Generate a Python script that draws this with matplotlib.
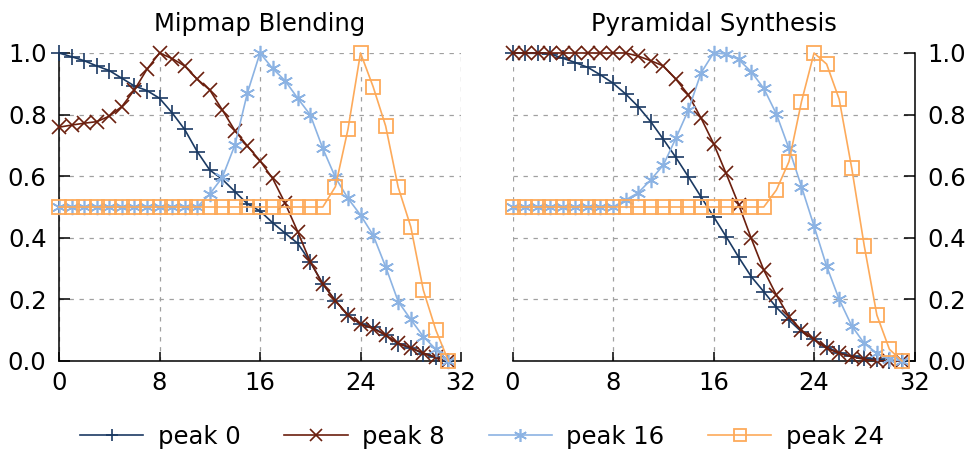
import matplotlib
matplotlib.use('Agg')
import matplotlib.pyplot as plt
from matplotlib.lines import Line2D

plt.rcParams['font.family'] = ['DejaVu Sans']

# sample index 0..31
x = list(range(32))

titles = ['Mipmap Blending', 'Pyramidal Synthesis']
labels = ['peak 0', 'peak 8', 'peak 16', 'peak 24']

# Mipmap Blending
mip_peak0 = [1.0, 0.988, 0.975, 0.958, 0.943, 0.918, 0.893, 0.878, 0.853, 0.806, 0.752, 0.68,
             0.62, 0.59, 0.55, 0.51, 0.487, 0.449, 0.415, 0.382, 0.322, 0.25, 0.196, 0.149,
             0.12, 0.109, 0.084, 0.055, 0.043, 0.023, 0.012, 0.0]
mip_peak8 = [0.759, 0.766, 0.772, 0.777, 0.795, 0.826, 0.88, 0.947, 1.0, 0.982, 0.958, 0.915,
             0.88, 0.815, 0.748, 0.698, 0.65, 0.593, 0.512, 0.42, 0.322, 0.25, 0.196, 0.149,
             0.12, 0.105, 0.084, 0.058, 0.043, 0.026, 0.012, 0.0]
mip_peak16 = [0.5, 0.5, 0.5, 0.5, 0.5, 0.5, 0.5, 0.5, 0.5, 0.5, 0.5, 0.5,
              0.542, 0.596, 0.701, 0.871, 1.0, 0.95, 0.91, 0.853, 0.799, 0.69, 0.596, 0.528,
              0.474, 0.409, 0.306, 0.193, 0.135, 0.079, 0.038, 0.0]
mip_peak24 = [0.5, 0.5, 0.5, 0.5, 0.5, 0.5, 0.5, 0.5, 0.5, 0.5, 0.5, 0.5,
              0.5, 0.5, 0.5, 0.5, 0.5, 0.5, 0.5, 0.5, 0.5, 0.5, 0.566, 0.752,
              1.0, 0.891, 0.763, 0.564, 0.436, 0.23, 0.10, 0.0]

# Pyramidal Synthesis
pyr_peak0 = [1.0, 0.999, 0.999, 0.997, 0.983, 0.969, 0.953, 0.929, 0.902, 0.867, 0.826, 0.777,
             0.72, 0.661, 0.598, 0.533, 0.469, 0.404, 0.337, 0.274, 0.225, 0.174, 0.133, 0.095,
             0.07, 0.046, 0.027, 0.016, 0.009, 0.005, 0.001, 0.0]
pyr_peak8 = [1.0, 1.0, 1.0, 1.0, 1.0, 1.0, 1.0, 1.0, 1.0, 1.0, 0.99, 0.975,
             0.958, 0.915, 0.864, 0.789, 0.706, 0.609, 0.508, 0.398, 0.295, 0.214, 0.144, 0.10,
             0.07, 0.041, 0.025, 0.014, 0.005, 0.001, 0.0, 0.0]
pyr_peak16 = [0.5, 0.5, 0.5, 0.5, 0.5, 0.5, 0.5, 0.5, 0.5, 0.523, 0.546, 0.588,
              0.636, 0.723, 0.815, 0.935, 1.0, 0.997, 0.979, 0.939, 0.885, 0.802, 0.69, 0.566,
              0.438, 0.308, 0.2, 0.114, 0.057, 0.025, 0.006, 0.0]
pyr_peak24 = [0.5, 0.5, 0.5, 0.5, 0.5, 0.5, 0.5, 0.5, 0.5, 0.5, 0.5, 0.5,
              0.5, 0.5, 0.5, 0.5, 0.5, 0.5, 0.5, 0.5, 0.5, 0.555, 0.647, 0.842,
              1.0, 0.964, 0.85, 0.626, 0.373, 0.149, 0.038, 0.0]

xticks = [0, 8, 16, 24, 32]
yticks = [0.0, 0.2, 0.4, 0.6, 0.8, 1.0]

colors = ['#1b3a63', '#6b1f0e', '#8cb3e3', '#fdaa5a']
markers = ['+', 'x', (6, 2, 0), 's']
msizes = [11, 10, 11, 10]

FS = 17.5

fig = plt.figure(figsize=(9.72, 4.58), dpi=100)
ax_l = fig.add_axes([0.0607, 0.2118, 0.4136, 0.6725])
ax_r = fig.add_axes([0.5273, 0.2118, 0.4136, 0.6725])

panels = [
    (ax_l, [mip_peak0, mip_peak8, mip_peak16, mip_peak24]),
    (ax_r, [pyr_peak0, pyr_peak8, pyr_peak16, pyr_peak24]),
]

for i, (ax, series) in enumerate(panels):
    for ys, c, m, ms in zip(series, colors, markers, msizes):
        if m == 's':
            ax.plot(x, ys, color=c, lw=1.2, marker=m, ms=ms, mfc='none', mec=c, mew=1.3,
                    clip_on=False, zorder=3)
        else:
            ax.plot(x, ys, color=c, lw=1.2, marker=m, ms=ms, mec=c, mew=1.2,
                    clip_on=False, zorder=3)

    ax.set_xlim(0, 32)
    ax.set_ylim(0, 1.0)
    ax.set_xticks(xticks)
    ax.set_yticks(yticks)
    ax.set_yticklabels([f'{v:.1f}' for v in yticks])
    ax.set_title(titles[i], fontsize=FS, pad=16)
    ax.grid(True, color='#a0a0a0', lw=0.9, linestyle=(0, (3.5, 4.5)))
    ax.set_axisbelow(True)

    for s in ['top', 'right', 'left', 'bottom']:
        ax.spines[s].set_visible(False)
    ax.spines['bottom'].set_visible(True)
    ax.spines['bottom'].set_linewidth(1.1)
    ax.tick_params(axis='x', direction='in', length=6.5, width=1.1, labelsize=FS, pad=7)
    if i == 0:
        ax.spines['left'].set_visible(True)
        ax.spines['left'].set_linewidth(1.1)
        ax.tick_params(axis='y', direction='in', length=8, width=1.1, labelsize=FS, pad=9)
    else:
        ax.spines['right'].set_visible(True)
        ax.spines['right'].set_linewidth(1.1)
        ax.yaxis.tick_right()
        ax.tick_params(axis='y', direction='in', length=8, width=1.1, labelsize=FS, pad=9)

handles = []
for c, m, ms, lab in zip(colors, markers, msizes, labels):
    if m == 's':
        h = Line2D([], [], color=c, lw=1.2, marker=m, ms=ms, mfc='none', mec=c, mew=1.3, label=lab)
    else:
        h = Line2D([], [], color=c, lw=1.2, marker=m, ms=ms, mec=c, mew=1.2, label=lab)
    handles.append(h)

fig.legend(handles=handles, loc='center', bbox_to_anchor=(0.496, 0.046), ncol=4,
           frameon=False, fontsize=FS, handlelength=2.6, handletextpad=0.6,
           columnspacing=1.8, markerscale=0.85)

fig.savefig('out.png', dpi=100)
